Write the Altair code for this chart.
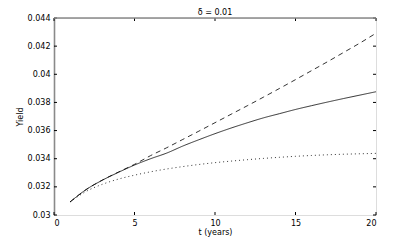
import altair as alt
import pandas as pd

# ---- data ----
t = list(range(1, 21))
solid = [0.03093, 0.03181, 0.03247, 0.03303, 0.03355, 0.03400, 0.03440, 0.03490,
         0.03535, 0.03578, 0.03618, 0.03655, 0.03690, 0.03720, 0.03750, 0.03777,
         0.03803, 0.03828, 0.03852, 0.03876]
dashed = [0.03093, 0.03181, 0.03248, 0.03305, 0.03360, 0.03422, 0.03478, 0.03537,
          0.03596, 0.03656, 0.03716, 0.03776, 0.03837, 0.03899, 0.03962, 0.04026,
          0.04090, 0.04156, 0.04222, 0.04292]
dotted = [0.03093, 0.03168, 0.03218, 0.03255, 0.03283, 0.03307, 0.03327, 0.03344,
          0.03359, 0.03372, 0.03383, 0.03393, 0.03402, 0.03410, 0.03417, 0.03423,
          0.03428, 0.03432, 0.03435, 0.03438]
series_names = ["solid", "dashed", "dotted"]
x_ticks = [0, 5, 10, 15, 20]
y_ticks = [0.030, 0.032, 0.034, 0.036, 0.038, 0.040, 0.042, 0.044]
title_text = "δ = 0.01"
x_title = "t (years)"
y_title = "Yield"

W, H = 322, 197
FONT = "DejaVu Sans"
FS = 8
TL = 3  # inward tick length
GRAY = "#8a8a8a"

df = pd.DataFrame({"t": t, "solid": solid, "dashed": dashed, "dotted": dotted})
xt = pd.DataFrame({"v": x_ticks})
yt = pd.DataFrame({"v": y_ticks})
one = pd.DataFrame({"k": [0]})

xs = alt.Scale(domain=[0, 20], nice=False, zero=False)
ys = alt.Scale(domain=[0.03, 0.044], nice=False, zero=False)
xaxis = alt.Axis(values=x_ticks, title=x_title, grid=False, domain=False, ticks=False,
                 labelPadding=4, titlePadding=1, titleFontWeight="normal",
                 labelFont=FONT, titleFont=FONT, labelFontSize=FS, titleFontSize=FS,
                 labelColor="black", titleColor="black")
yaxis = alt.Axis(values=y_ticks, format="~g", title=y_title, grid=False,
                 domain=True, domainColor=GRAY, domainWidth=1.6,
                 ticks=False, labelPadding=4, titlePadding=3, titleFontWeight="normal",
                 labelFont=FONT, titleFont=FONT, labelFontSize=FS, titleFontSize=FS,
                 labelColor="black", titleColor="black")

lines = alt.Chart(df).transform_fold(series_names, as_=["series", "y"]).mark_line(
    color="black", strokeWidth=0.8, interpolate="monotone"
).encode(
    x=alt.X("t:Q", scale=xs, axis=xaxis, title=x_title),
    y=alt.Y("y:Q", scale=ys, axis=yaxis, title=y_title),
    strokeDash=alt.StrokeDash("series:N",
                              scale=alt.Scale(domain=series_names,
                                              range=[[1, 0], [5, 4], [1, 3]]),
                              legend=None),
    detail="series:N",
)

xb = alt.Chart(xt).mark_rule(color="black", strokeWidth=1).encode(
    x=alt.X("v:Q", scale=xs, axis=xaxis, title=x_title), y=alt.value(H), y2=alt.value(H - TL))
xtp = alt.Chart(xt).mark_rule(color="black", strokeWidth=1).encode(
    x=alt.X("v:Q", scale=xs, axis=xaxis, title=x_title), y=alt.value(0), y2=alt.value(TL))
yl = alt.Chart(yt).mark_rule(color="black", strokeWidth=1).encode(
    y=alt.Y("v:Q", scale=ys, axis=yaxis, title=y_title), x=alt.value(0), x2=alt.value(TL))
yr = alt.Chart(yt).mark_rule(color="black", strokeWidth=1).encode(
    y=alt.Y("v:Q", scale=ys, axis=yaxis, title=y_title), x=alt.value(W), x2=alt.value(W - TL))
top_edge = alt.Chart(one).mark_rule(color=GRAY, strokeWidth=1.6).encode(
    x=alt.value(0), x2=alt.value(W), y=alt.value(0))
title_mark = alt.Chart(one).mark_text(
    font=FONT, fontSize=FS, color="black", align="center", baseline="alphabetic"
).encode(x=alt.value(W / 2), y=alt.value(-3), text=alt.value(title_text))

chart = alt.layer(lines, xb, xtp, yl, yr, top_edge, title_mark).properties(
    width=W, height=H,
    padding={"left": 46, "top": 10, "right": 31, "bottom": 24},
    autosize=alt.AutoSizeParams(type="none"),
).configure_view(stroke="black", strokeWidth=1).configure(background="white")

chart.save("out.html", embed_options={"renderer": "svg", "actions": False})
